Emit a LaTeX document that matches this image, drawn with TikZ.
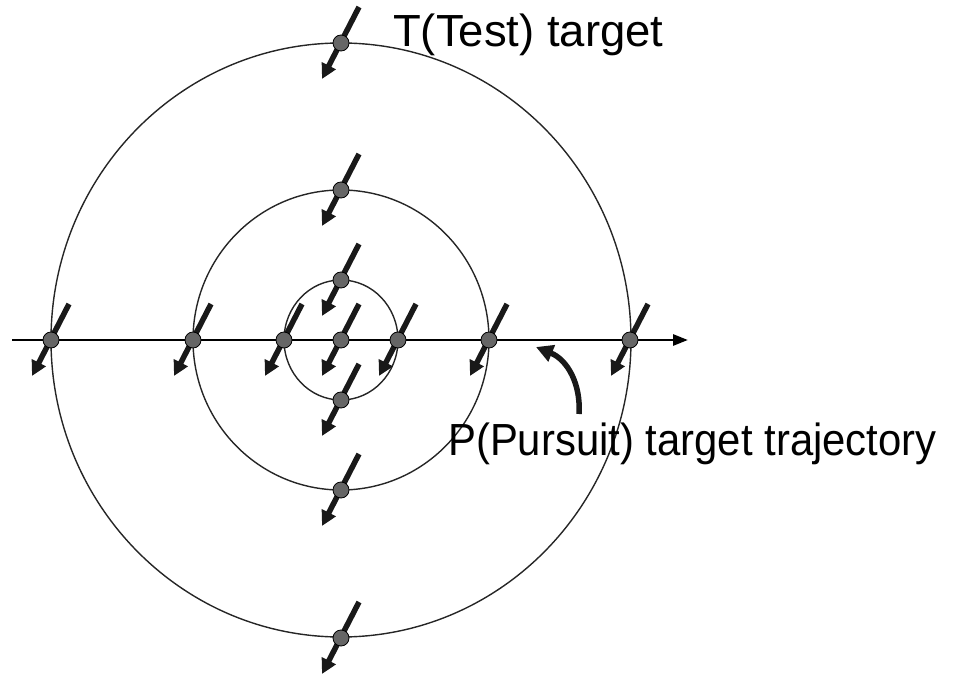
\documentclass[tikz,border=0pt]{standalone}
\usepackage{fontspec}
\setmainfont{Liberation Sans}
\usetikzlibrary{arrows.meta}
\begin{document}
\begin{tikzpicture}[x=1pt,y=-1pt,
  ring/.style={draw=black!85,line width=1.4pt},
  axisline/.style={draw=black,line width=2.8pt,-{Triangle[length=15pt,width=11pt]}},
  mover/.style={draw=black!90,line width=5.5pt,-{Triangle[length=15pt,width=15pt]}},
  dotpt/.style={circle,draw=black,fill=black!60,line width=0.8pt,minimum size=16pt,inner sep=0pt},
  lbl/.style={inner sep=0pt,anchor=base west,font=\fontsize{45}{52}\selectfont},
  curvearrow/.style={draw=black!90,line width=5.5pt,-{Triangle[length=17pt,width=17pt]}}]
\useasboundingbox (0,0) rectangle (978,679);
\coordinate (c) at (341,340);
% rings
\draw[ring] (c) ellipse [x radius=290pt, y radius=297pt];
\draw[ring] (c) ellipse [x radius=148pt, y radius=150pt];
\draw[ring] (c) ellipse [x radius=57pt, y radius=60pt];
% axis
\coordinate (axL) at (12,340);
\coordinate (axR) at (688,340);
\draw[axisline] (axL) -- (axR);
% points
\foreach \n/\px/\py in {o1/341/43, o2/341/638, o3/51/340, o4/630/340,
                        m1/341/190, m2/341/490, m3/193/340, m4/489/340,
                        i1/341/280, i2/341/400, i3/284/340, i4/398/340,
                        cc/341/340}{
  \coordinate (\n) at (\px,\py);
  \draw[mover] ([shift={(18,-36)}]\n) -- ([shift={(-19,36)}]\n);
  \node[dotpt] (d\n) at (\n) {};
}
% labels
\node[lbl] (tlabel) at (393,47) {\scalebox{1.01}[1]{T(Test) target}};
\node[lbl] (plabel) at (448,455) {\scalebox{0.93}[1]{P(Pursuit) target trajectory}};
% curved arrow
\coordinate (cs) at (579,414);
\coordinate (ce) at (536,347);
\draw[curvearrow] (cs) .. controls (581,385) and (568,360) .. (ce);
\end{tikzpicture}
\end{document}
